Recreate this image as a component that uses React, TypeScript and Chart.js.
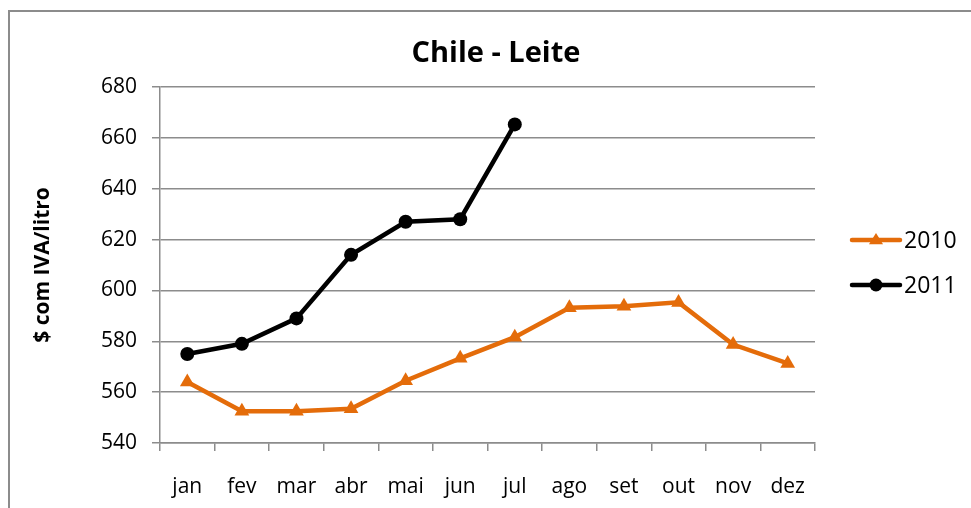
import React, { useEffect, useRef } from "react";
import { Chart, registerables } from "chart.js";

Chart.register(...registerables);

const months = ["jan", "fev", "mar", "abr", "mai", "jun", "jul", "ago", "set", "out", "nov", "dez"];
const values2010 = [564, 552.5, 552.5, 553.5, 564.5, 573.3, 581.6, 593.2, 593.8, 595.3, 578.7, 571.3];
const values2011 = [575, 579, 589, 614, 627, 628, 665.3, null, null, null, null, null];
const seriesNames = ["2010", "2011"];
const yTicks = [540, 560, 580, 600, 620, 640, 660, 680];

const ORANGE = "#E46C0A";
const BLACK = "#000000";
const GRID = "#8c8c8c";
const FONT = "'Open Sans', 'Noto Sans', sans-serif";

const overlayPlugin = {
  id: "overlay",
  afterDraw(chart: any) {
    const ctx = chart.ctx;
    ctx.save();
    ctx.fillStyle = "#000";
    ctx.font = `bold 29px ${FONT}`;
    ctx.textAlign = "center";
    ctx.textBaseline = "middle";
    ctx.fillText("Chile - Leite", 496, 54);

    const items = [
      { y: 240, ds: chart.data.datasets[0] },
      { y: 285, ds: chart.data.datasets[1] },
    ];
    items.forEach((it) => {
      ctx.strokeStyle = it.ds.borderColor;
      ctx.lineWidth = 4.5;
      ctx.lineCap = "round";
      ctx.beginPath();
      ctx.moveTo(852, it.y);
      ctx.lineTo(900, it.y);
      ctx.stroke();
      ctx.fillStyle = it.ds.borderColor;
      const x = 876;
      if (it.ds.pointStyle === "triangle") {
        const r = 7;
        ctx.beginPath();
        ctx.moveTo(x, it.y - r);
        ctx.lineTo(x + r, it.y + r * 0.6);
        ctx.lineTo(x - r, it.y + r * 0.6);
        ctx.closePath();
        ctx.fill();
      } else {
        ctx.beginPath();
        ctx.arc(x, it.y, 6.5, 0, Math.PI * 2);
        ctx.fill();
      }
      ctx.fillStyle = "#000";
      ctx.font = `23px ${FONT}`;
      ctx.textAlign = "left";
      ctx.textBaseline = "middle";
      ctx.fillText(it.ds.label, 904, it.y + 1);
    });
    ctx.restore();
  },
};

export default function App() {
  const ref = useRef<HTMLCanvasElement | null>(null);
  useEffect(() => {
    if (!ref.current) return;
    const chart = new Chart(ref.current, {
      type: "line",
      data: {
        labels: months,
        datasets: [
          {
            label: seriesNames[0],
            data: values2010,
            borderColor: ORANGE,
            backgroundColor: ORANGE,
            borderWidth: 4.5,
            pointStyle: "triangle",
            pointRadius: 8.5,
            pointBorderWidth: 0,
            tension: 0,
          },
          {
            label: seriesNames[1],
            data: values2011,
            borderColor: BLACK,
            backgroundColor: BLACK,
            borderWidth: 4.5,
            pointStyle: "circle",
            pointRadius: 7,
            pointBorderWidth: 0,
            tension: 0,
            spanGaps: false,
          },
        ],
      },
      options: {
        animation: false,
        responsive: false,
        layout: { padding: { top: 87, right: 156, left: 0, bottom: 0 } },
        plugins: { legend: { display: false }, title: { display: false }, tooltip: { enabled: false } },
        scales: {
          x: {
            offset: true,
            grid: { display: true, offset: true, drawOnChartArea: false, drawTicks: true, tickLength: 8, color: GRID, lineWidth: 1.5 },
            border: { display: true, color: GRID, width: 1.5 },
            ticks: { color: "#000", font: { family: FONT, size: 21 }, padding: 23, maxRotation: 0, autoSkip: false },
            afterFit(scale: any) {
              scale.height = 65;
            },
          },
          y: {
            min: 540,
            max: 680,
            afterBuildTicks(scale: any) {
              scale.ticks = yTicks.map((v) => ({ value: v }));
            },
            grid: { color: GRID, lineWidth: 1.5, tickLength: 8 },
            border: { display: true, color: GRID, width: 1.5 },
            ticks: { color: "#000", font: { family: FONT, size: 21 }, padding: 15 },
            title: {
              display: true,
              text: "$ com IVA/litro",
              color: "#000",
              font: { family: FONT, size: 21, weight: "bold" },
              padding: { top: 30, bottom: 0 },
            },
            afterFit(scale: any) {
              scale.width = 160;
            },
          },
        },
      },
      plugins: [overlayPlugin],
    } as any);
    return () => chart.destroy();
  }, []);

  return (
    <div>
      <div
        style={{
          position: "fixed",
          left: 8,
          top: 10,
          width: 990,
          height: 540,
          border: "2px solid #8c8c8c",
          boxSizing: "border-box",
          background: "#fff",
        }}
      />
      <canvas
        ref={ref}
        width={971}
        height={508}
        style={{ position: "fixed", left: 0, top: 0, width: 971, height: 508 }}
      />
    </div>
  );
}
